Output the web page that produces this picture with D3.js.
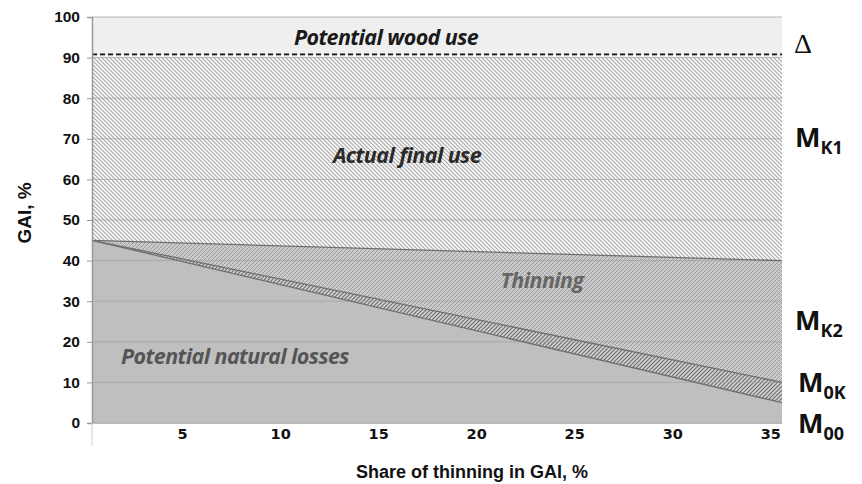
<!DOCTYPE html>
<html>
<head>
<meta charset="utf-8">
<script src="https://cdn.jsdelivr.net/npm/d3@7"></script>
<style>
  body { margin: 0; background: #fff; }
  svg { display: block; }
</style>
</head>
<body>
<div id="chart"></div>
<script>
// share of thinning (chart ends) and the boundary values of each zone, % of GAI
const shares = [0.4, 35.6];
const potentialUse = [100, 100];
const finalUseTop = [90, 90];
const thinningTop = [45, 40];
const mokTop = [45, 10];
const mooTop = [45, 5];
const potentialLine = [90.8, 90.8];

const yTicks = [0, 10, 20, 30, 40, 50, 60, 70, 80, 90, 100];
const xTicks = [5, 10, 15, 20, 25, 30, 35];

const width = 862, height = 484;
const margin = { top: 17, right: 80, bottom: 61, left: 92 };

const svg = d3.select('#chart').append('svg')
  .attr('width', width)
  .attr('height', height);

const x = d3.scaleLinear().domain([shares[0], shares[1]]).range([margin.left, width - margin.right]);
const y = d3.scaleLinear().domain([0, 100]).range([height - margin.bottom, margin.top]);

// ---- patterns ----
const defs = svg.append('defs');

const back = defs.append('pattern')
  .attr('id', 'back-hatch')
  .attr('patternUnits', 'userSpaceOnUse')
  .attr('width', 4).attr('height', 4);
back.append('rect').attr('width', 4).attr('height', 4).attr('fill', '#fbfbfb');
back.append('path')
  .attr('d', 'M-1,-1 L5,5 M-1,3 L1,5 M3,-1 L5,1')
  .attr('stroke', '#a9a9a9').attr('stroke-width', 1.1);

const cross = defs.append('pattern')
  .attr('id', 'cross-hatch')
  .attr('patternUnits', 'userSpaceOnUse')
  .attr('width', 4).attr('height', 4);
cross.append('rect').attr('width', 4).attr('height', 4).attr('fill', '#c4c4c4');
cross.append('path')
  .attr('d', 'M-1,5 L5,-1 M-1,1 L1,-1 M3,5 L5,3')
  .attr('stroke', '#a0a0a0').attr('stroke-width', 1);
cross.append('path')
  .attr('d', 'M-1,-1 L5,5')
  .attr('stroke', '#d8d8d8').attr('stroke-width', 0.7);

const dense = defs.append('pattern')
  .attr('id', 'dense-hatch')
  .attr('patternUnits', 'userSpaceOnUse')
  .attr('width', 4).attr('height', 4);
dense.append('rect').attr('width', 4).attr('height', 4).attr('fill', '#d2d2d2');
dense.append('path')
  .attr('d', 'M-1,5 L5,-1 M-1,1 L1,-1 M3,5 L5,3')
  .attr('stroke', '#6e6e6e').attr('stroke-width', 1.2);

// ---- areas ----
const idx = d3.range(shares.length);
const area = top => d3.area()
  .x(i => x(shares[i]))
  .y0(y(0))
  .y1(i => y(top[i]));

const zones = [
  { top: potentialUse, fill: '#efefef' },
  { top: finalUseTop, fill: 'url(#back-hatch)' },
  { top: thinningTop, fill: 'url(#cross-hatch)' },
  { top: mokTop, fill: 'url(#dense-hatch)' },
  { top: mooTop, fill: '#bfbfbf' }
];

svg.append('g').selectAll('path')
  .data(zones)
  .join('path')
  .attr('d', z => area(z.top)(idx))
  .attr('fill', z => z.fill);

// gridlines
svg.append('g').selectAll('line')
  .data(yTicks)
  .join('line')
  .attr('x1', x.range()[0]).attr('x2', x.range()[1])
  .attr('y1', d => y(d)).attr('y2', d => y(d))
  .attr('stroke', '#a3a3a3')
  .attr('stroke-opacity', 0.75)
  .attr('stroke-width', 1);

// boundary lines
[thinningTop, mokTop, mooTop].forEach(top => {
  svg.append('path')
    .attr('d', d3.line().x(i => x(shares[i])).y(i => y(top[i]))(idx))
    .attr('fill', 'none')
    .attr('stroke', '#6f6f6f')
    .attr('stroke-width', 1.3);
});

svg.append('path')
  .attr('d', d3.line().x(i => x(shares[i])).y(i => y(potentialLine[i]))(idx))
  .attr('fill', 'none')
  .attr('stroke', '#111')
  .attr('stroke-width', 1.6)
  .attr('stroke-dasharray', '5,3');

// ---- axes ----
const yAxis = svg.append('g')
  .attr('transform', `translate(${margin.left},0)`)
  .call(d3.axisLeft(y).tickValues(yTicks).tickSize(5).tickPadding(7));
yAxis.select('.domain').attr('stroke', '#999').attr('stroke-width', 1.5);
yAxis.selectAll('.tick line').attr('stroke', '#9a9a9a');
yAxis.selectAll('text')
  .attr('font-family', 'Liberation Sans, Arial, sans-serif')
  .attr('font-weight', 'bold')
  .attr('font-size', 15.5)
  .attr('fill', '#111');

const xAxis = svg.append('g')
  .attr('transform', `translate(0,${y(0)})`)
  .call(d3.axisBottom(x).tickValues(xTicks).tickSize(0).tickPadding(6));
xAxis.select('.domain').attr('stroke', '#bdbdbd');
xAxis.selectAll('text')
  .attr('font-family', 'DejaVu Sans, Verdana, sans-serif')
  .attr('font-weight', 'bold')
  .attr('font-size', 14.5)
  .attr('fill', '#111');

svg.append('line')
  .attr('x1', x.range()[0]).attr('x2', x.range()[0])
  .attr('y1', y(0)).attr('y2', y(0) + 23)
  .attr('stroke', '#d0d0d0');

svg.append('text')
  .attr('transform', `translate(31,213) rotate(-90)`)
  .attr('text-anchor', 'middle')
  .attr('font-family', 'Liberation Sans, Arial, sans-serif')
  .attr('font-weight', 'bold')
  .attr('font-size', 19)
  .attr('fill', '#111')
  .text('GAI, %');

svg.append('text')
  .attr('x', 472).attr('y', 478)
  .attr('text-anchor', 'middle')
  .attr('font-family', 'Liberation Sans, Arial, sans-serif')
  .attr('font-weight', 'bold')
  .attr('font-size', 18)
  .attr('fill', '#111')
  .text('Share of thinning in GAI, %');

// ---- zone labels ----
const zoneLabels = [
  { t: 'Potential wood use', x: 386, y: 45, c: '#1a1a1a' },
  { t: 'Actual final use', x: 407, y: 163, c: '#2a2a2a' },
  { t: 'Thinning', x: 542, y: 288, c: '#666' },
  { t: 'Potential natural losses', x: 235, y: 364, c: '#555' }
];
svg.append('g').selectAll('text')
  .data(zoneLabels)
  .join('text')
  .attr('x', d => d.x).attr('y', d => d.y)
  .attr('text-anchor', 'middle')
  .attr('font-family', 'Open Sans, Lato, sans-serif')
  .attr('font-style', 'italic')
  .attr('font-weight', 'bold')
  .attr('font-size', 21.5)
  .attr('letter-spacing', -0.6)
  .attr('fill', d => d.c)
  .text(d => d.t);

// ---- right side symbols ----
svg.append('text')
  .attr('x', 794).attr('y', 53)
  .attr('font-family', 'Liberation Serif, Times New Roman, serif')
  .attr('font-size', 28)
  .attr('fill', '#111')
  .text('Δ');

const mLabels = [
  { sub: 'K1', x: 795, y: 147 },
  { sub: 'K2', x: 795, y: 330 },
  { sub: '0K', x: 798, y: 392 },
  { sub: '00', x: 798, y: 433 }
];
mLabels.forEach(m => {
  const t = svg.append('text')
    .attr('x', m.x).attr('y', m.y)
    .attr('font-family', 'Open Sans, Liberation Sans, sans-serif')
    .attr('font-weight', 'bold')
    .attr('font-size', 27)
    .attr('fill', '#111');
  t.append('tspan').text('M');
  t.append('tspan').attr('dy', 7).attr('font-size', 18).text(m.sub);
});
</script>
</body>
</html>
